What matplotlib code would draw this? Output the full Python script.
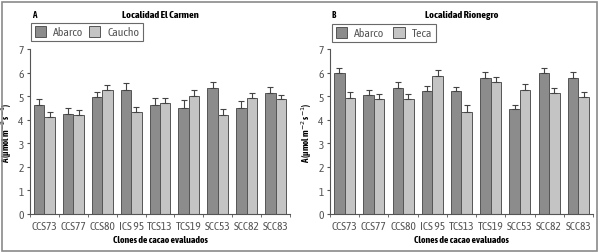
import numpy as np
import matplotlib
matplotlib.use("Agg")
import matplotlib.pyplot as plt
from matplotlib import font_manager
from matplotlib.patches import Rectangle

# narrow font if one is installed (prefer one that has a bold face), otherwise shrink the text
fonts = font_manager.fontManager.ttflist
narrow = None
cands = sorted({f.name for f in fonts if "Narrow" in f.name or "Condensed" in f.name})
bold_ok = [n for n in cands if any(f.name == n and f.weight in (600, 700, "bold", "semibold") for f in fonts)]
if bold_ok:
    narrow = (bold_ok[0], "normal")
elif cands:
    narrow = (cands[0], "normal")
else:
    for f in fonts:
        if f.name in ("DejaVu Sans", "Liberation Sans") and f.stretch in ("condensed", "semi-condensed"):
            narrow = (f.name, f.stretch)
            break
if narrow:
    plt.rcParams['font.family'] = [narrow[0], 'DejaVu Sans']
    plt.rcParams['font.stretch'] = narrow[1]
    k = 1.0
else:
    plt.rcParams['font.family'] = ['Liberation Sans', 'DejaVu Sans']
    k = 0.8

clones = ["CCS73", "CCS77", "CCS80", "ICS 95", "TCS13", "TCS19", "SCC53", "SCC82", "SCC83"]

# Localidad El Carmen
carmen_abarco = [4.61, 4.24, 4.96, 5.26, 4.64, 4.51, 5.35, 4.50, 5.13]
carmen_abarco_err = [0.25, 0.27, 0.22, 0.28, 0.29, 0.31, 0.25, 0.28, 0.26]
carmen_caucho = [4.10, 4.20, 5.25, 4.31, 4.69, 5.01, 4.22, 4.93, 4.86]
carmen_caucho_err = [0.21, 0.22, 0.21, 0.23, 0.24, 0.25, 0.25, 0.22, 0.17]

# Localidad Rionegro
rio_abarco = [5.97, 5.03, 5.36, 5.22, 5.22, 5.78, 4.45, 6.00, 5.78]
rio_abarco_err = [0.24, 0.22, 0.24, 0.20, 0.17, 0.23, 0.19, 0.20, 0.23]
rio_teca = [4.93, 4.86, 4.86, 5.85, 4.33, 5.60, 5.27, 5.12, 4.95]
rio_teca_err = [0.25, 0.22, 0.22, 0.25, 0.28, 0.23, 0.23, 0.24, 0.24]

dark = "#8c8c8c"
light = "#c4c4c4"
edge = "#555555"
txt = "#555555"

W, H = 602, 253
fig = plt.figure(figsize=(W / 100, H / 100), dpi=100)

# outer frame
fig.add_artist(Rectangle((2 / W, 1 / H), 595 / W, 249 / H, transform=fig.transFigure,
                         fill=False, edgecolor="#8a8a8a", linewidth=1.2))


def panel(x0, x1, letter, title, a, a_err, b, b_err, b_name, leg_box):
    ax = fig.add_axes([x0 / W, 1 - 215 / H, (x1 - x0) / W, 165 / H])
    x = np.arange(len(clones))
    w = 0.36
    ekw = dict(ecolor="#444444", elinewidth=0.8, capsize=2.5, capthick=0.8)
    ax.bar(x - w / 2, a, w, color=dark, edgecolor=edge, linewidth=0.7, label="Abarco",
           yerr=[np.zeros(len(a)), a_err], error_kw=ekw)
    ax.bar(x + w / 2, b, w, color=light, edgecolor=edge, linewidth=0.7, label=b_name,
           yerr=[np.zeros(len(b)), b_err], error_kw=ekw)
    ax.set_xlim(-0.5, len(clones) - 0.5)
    ax.set_ylim(0, 7)
    ax.set_yticks(range(8))
    ax.set_xticks(x)
    ax.set_xticklabels(clones)
    ax.set_xticks(np.arange(-0.5, len(clones)), minor=True)
    ax.tick_params(axis="x", which="major", length=0, pad=4, labelsize=8.2 * k, labelcolor=txt)
    ax.tick_params(axis="x", which="minor", length=2.5, color=edge)
    ax.tick_params(axis="y", length=2.5, pad=2, labelsize=8.2 * k, labelcolor=txt, color=edge)
    for s in ["top", "right"]:
        ax.spines[s].set_visible(False)
    for s in ["left", "bottom"]:
        ax.spines[s].set_color(edge)
        ax.spines[s].set_linewidth(0.8)
    ax.set_xlabel("Clones de cacao evaluados", fontsize=7 * k, fontweight="bold", labelpad=3)
    ax.set_ylabel("A (μmol m$^{-2}$ s$^{-1}$)", fontsize=6.5 * k, fontweight="bold", labelpad=3)
    fig.text((x0 + 2) / W, 1 - 15 / H, letter, fontsize=6.5 * k, fontweight="bold", va="center")
    fig.text((x0 + x1) / 2 / W, 1 - 16 / H, title, fontsize=7.5 * k, fontweight="bold", va="center", ha="center")
    lx, ly0, lx1, ly1 = leg_box
    leg = ax.legend(loc="lower left", bbox_to_anchor=(lx / W, 1 - ly1 / H, (lx1 - lx) / W, (ly1 - ly0) / H),
                    bbox_transform=fig.transFigure, ncol=2, mode="expand", borderaxespad=0,
                    fontsize=8.5 * k, frameon=True, fancybox=False, handlelength=1.0, handleheight=1.0,
                    handletextpad=0.6, borderpad=0.3, columnspacing=1.2)
    leg.get_frame().set_edgecolor("#444444")
    leg.get_frame().set_linewidth(0.8)
    for t in leg.get_texts():
        t.set_color(txt)
    return ax


panel(30, 290, "A", "Localidad El Carmen", carmen_abarco, carmen_abarco_err,
      carmen_caucho, carmen_caucho_err, "Caucho", (31, 26, 143, 42))
panel(330, 593, "B", "Localidad Rionegro", rio_abarco, rio_abarco_err,
      rio_teca, rio_teca_err, "Teca", (332, 26, 436, 43))

fig.savefig("out.png", dpi=100)
